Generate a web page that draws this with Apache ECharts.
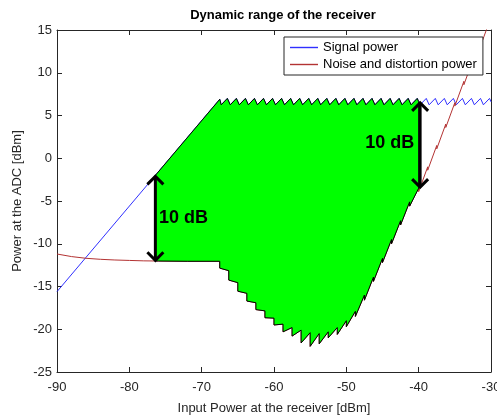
<!DOCTYPE html>
<html>
<head>
<meta charset="utf-8">
<script src="https://cdn.jsdelivr.net/npm/echarts@6/dist/echarts.min.js"></script>
<style>
  html, body { margin: 0; padding: 0; background: #fff; }
  #chart { width: 497px; height: 416px; }
</style>
</head>
<body>
<div id="chart"></div>
<script>
// Axis ranges and ticks
const xRange = [-90, -30];
const xStep = 10;
const yRange = [-25, 15];
const yStep = 5;

// Signal power at the ADC: linear ramp, then held by the AGC (gain steps give the ripple)
const signalRamp = [[-90, -15.6], [-67.5, 6.9]];
const signalClip = [
  [-67.3, 6.25], [-66.45, 7.0], [-66.05, 6.25], [-65.2, 7.0],
  [-64.8, 6.25], [-63.95, 7.0], [-63.55, 6.25], [-62.7, 7.0],
  [-62.3, 6.25], [-61.45, 7.0], [-61.05, 6.25], [-60.2, 7.0],
  [-59.8, 6.25], [-58.95, 7.0], [-58.55, 6.25], [-57.7, 7.0],
  [-57.3, 6.25], [-56.45, 7.0], [-56.05, 6.25], [-55.2, 7.0],
  [-54.8, 6.25], [-53.95, 7.0], [-53.55, 6.25], [-52.7, 7.0],
  [-52.3, 6.25], [-51.45, 7.0], [-51.05, 6.25], [-50.2, 7.0],
  [-49.8, 6.25], [-48.95, 7.0], [-48.55, 6.25], [-47.7, 7.0],
  [-47.3, 6.25], [-46.45, 7.0], [-46.05, 6.25], [-45.2, 7.0],
  [-44.8, 6.25], [-43.95, 7.0], [-43.55, 6.25], [-42.7, 7.0],
  [-42.3, 6.25], [-41.45, 7.0], [-41.05, 6.25], [-40.2, 7.0],
  [-39.8, 6.25], [-38.95, 7.0], [-38.55, 6.25], [-37.7, 7.0],
  [-37.3, 6.25], [-36.45, 7.0], [-36.05, 6.25], [-35.2, 7.0],
  [-34.8, 6.25], [-33.95, 7.0], [-33.55, 6.25], [-32.7, 7.0],
  [-32.3, 6.25], [-31.45, 7.0], [-31.05, 6.25], [-30.2, 7.0],
  [-30, 6.6]
];

// Noise and distortion power at the ADC
const noiseFloor = [
  [-90, -11.2], [-88, -11.5], [-86, -11.7], [-84, -11.82], [-82, -11.9],
  [-80, -11.95], [-78, -12.0], [-76, -12.02], [-72, -12.05], [-67.5, -12.05]
];
const noiseSteps = [
  [-67.5, -12.85], [-66.25, -13.15],
  [-66.25, -14.25], [-65, -14.55],
  [-65, -15.55], [-63.75, -15.8],
  [-63.75, -16.7], [-62.5, -16.9],
  [-62.5, -17.7], [-61.25, -17.85],
  [-61.25, -18.65], [-60, -18.7],
  [-60, -19.5], [-58.75, -19.4],
  [-58.75, -20.3], [-57.5, -19.8],
  [-57.5, -20.8], [-56.25, -20.1],
  [-56.25, -21.6], [-55, -20.4],
  [-55, -22.0], [-53.75, -20.5],
  [-53.75, -21.7], [-52.5, -20.3],
  [-52.5, -21.0], [-51.25, -19.8],
  [-51.25, -20.6], [-50, -19.0],
  [-50, -19.7], [-48.75, -17.9],
  [-48.75, -18.5], [-47.5, -16.0],
  [-47.5, -16.6], [-46.25, -13.9],
  [-46.25, -14.4], [-45, -11.7],
  [-45, -12.2], [-43.75, -9.5],
  [-43.75, -10.0], [-42.5, -7.3],
  [-42.5, -7.8], [-41.25, -5.1],
  [-41.25, -5.6], [-40, -3.5]
];
const noiseRise = [
  [-40, -3.9], [-38.75, -1.0],
  [-38.75, -1.4], [-37.5, 1.5],
  [-37.5, 1.1], [-36.25, 4.0],
  [-36.25, 3.6], [-35, 6.5],
  [-35, 6.1], [-33.75, 9.0],
  [-33.75, 8.6], [-32.5, 11.5],
  [-32.5, 11.1], [-31.25, 14.0],
  [-31.25, 13.6], [-30, 16.5]
];

// Usable input range (SNR >= 10 dB)
const rangeStart = -76.4;
const rangeEnd = -40;

// 10 dB markers: [x, top, bottom]
const arrows = [[-76.4, -2.0, -12.05], [-39.8, 6.6, -3.5]];
const arrowLabels = [[-72.5, -7.0], [-44.0, 1.8]];
const arrowText = '10 dB';

const seriesNames = ['Signal power', 'Noise and distortion power'];
const seriesColors = ['#3030ff', '#b33333'];

function interp(pts, x) {
  for (let i = 0; i < pts.length - 1; i++) {
    const a = pts[i], b = pts[i + 1];
    if (x >= a[0] && x <= b[0] && b[0] !== a[0]) {
      return a[1] + (b[1] - a[1]) * (x - a[0]) / (b[0] - a[0]);
    }
  }
  return pts[pts.length - 1][1];
}

// Outline of the usable region: signal on top, noise underneath
const signalAll = signalRamp.concat(signalClip);
const topEdge = [[rangeStart, interp(signalRamp, rangeStart)]]
  .concat(signalAll.filter(p => p[0] > rangeStart && p[0] < rangeEnd))
  .concat([[rangeEnd, interp(signalClip, rangeEnd)]]);
const bottomEdge = [[rangeStart, interp(noiseFloor, rangeStart)]]
  .concat(noiseFloor.filter(p => p[0] > rangeStart))
  .concat(noiseSteps);
const outline = topEdge.concat(bottomEdge.slice().reverse());

const axisColor = '#262626';
const font = 'Liberation Sans, Arial, Helvetica, sans-serif';

const chart = echarts.init(document.getElementById('chart'), null, { renderer: 'canvas' });

const baseX = {
  type: 'value', min: xRange[0], max: xRange[1], interval: xStep,
  axisLine: { onZero: false, lineStyle: { color: axisColor, width: 1 } },
  axisTick: { inside: true, length: 5, lineStyle: { color: axisColor } },
  splitLine: { show: false }
};
const baseY = {
  type: 'value', min: yRange[0], max: yRange[1], interval: yStep,
  axisLine: { onZero: false, lineStyle: { color: axisColor, width: 1 } },
  axisTick: { inside: true, length: 5, lineStyle: { color: axisColor } },
  splitLine: { show: false }
};

chart.setOption({
  animation: false,
  backgroundColor: '#fff',
  title: {
    text: 'Dynamic range of the receiver',
    left: 278, top: 4, textAlign: 'center',
    textStyle: { fontFamily: font, fontSize: 13, fontWeight: 'bold', color: '#000' }
  },
  grid: { left: 57, right: 6, top: 30, bottom: 44, containLabel: false, outerBoundsMode: 'none' },
  xAxis: [
    Object.assign({}, baseX, {
      position: 'bottom',
      name: 'Input Power at the receiver [dBm]',
      nameLocation: 'middle', nameGap: 30, nameMoveOverlap: false,
      nameTextStyle: { fontFamily: font, fontSize: 13, color: axisColor },
      axisLabel: { fontFamily: font, fontSize: 13, color: axisColor, margin: 9 }
    }),
    Object.assign({}, baseX, { position: 'top', axisLabel: { show: false } })
  ],
  yAxis: [
    Object.assign({}, baseY, {
      position: 'left',
      name: 'Power at the ADC [dBm]',
      nameLocation: 'middle', nameGap: 33, nameRotate: 90, nameMoveOverlap: false,
      nameTextStyle: { fontFamily: font, fontSize: 13, color: axisColor },
      axisLabel: { fontFamily: font, fontSize: 13, color: axisColor, margin: 5 }
    }),
    Object.assign({}, baseY, { position: 'right', axisLabel: { show: false } })
  ],
  legend: {
    data: seriesNames.map((n, i) => ({ name: n, icon: 'rect', itemStyle: { color: seriesColors[i] } })),
    orient: 'vertical',
    left: 284, top: 37,
    backgroundColor: '#fff',
    borderColor: axisColor, borderWidth: 1, borderRadius: 0,
    padding: [4, 6, 4, 6],
    itemGap: 4, itemWidth: 28, itemHeight: 1.4,
    textStyle: { fontFamily: font, fontSize: 13, color: '#000' },
    z: 20
  },
  series: [
    {
      name: seriesNames[0], type: 'line', data: signalAll,
      showSymbol: false, symbol: 'none', z: 2,
      lineStyle: { color: seriesColors[0], width: 1 }, itemStyle: { color: seriesColors[0] }
    },
    {
      name: seriesNames[1], type: 'line', data: noiseFloor.concat(noiseSteps, noiseRise),
      showSymbol: false, symbol: 'none', z: 2,
      lineStyle: { color: seriesColors[1], width: 1 }, itemStyle: { color: seriesColors[1] }
    },
    {
      type: 'custom', z: 3, silent: true,
      data: [[rangeStart, 0]],
      renderItem: function (params, api) {
        return {
          type: 'polygon',
          shape: { points: outline.map(p => api.coord(p)) },
          style: { fill: '#00ff00', stroke: '#000', lineWidth: 1 }
        };
      }
    },
    {
      type: 'custom', z: 4, silent: true,
      data: arrows,
      renderItem: function (params, api) {
        const top = api.coord([api.value(0), api.value(1)]);
        const bot = api.coord([api.value(0), api.value(2)]);
        const hw = 8, hl = 9;
        const st = { stroke: '#000', lineWidth: 3, fill: null, lineJoin: 'miter' };
        return {
          type: 'group',
          children: [
            { type: 'line', shape: { x1: top[0], y1: top[1] + 1, x2: bot[0], y2: bot[1] - 1 }, style: st },
            { type: 'polyline', shape: { points: [[top[0] - hw, top[1] + hl], [top[0], top[1] + 1], [top[0] + hw, top[1] + hl]] }, style: st },
            { type: 'polyline', shape: { points: [[bot[0] - hw, bot[1] - hl], [bot[0], bot[1] - 1], [bot[0] + hw, bot[1] - hl]] }, style: st }
          ]
        };
      }
    },
    {
      type: 'custom', z: 5, silent: true,
      data: arrowLabels,
      renderItem: function (params, api) {
        const p = api.coord([api.value(0), api.value(1)]);
        return {
          type: 'text',
          x: p[0], y: p[1],
          style: {
            text: arrowText, fill: '#000',
            fontFamily: font, fontSize: 18, fontWeight: 'bold',
            align: 'center', verticalAlign: 'middle'
          }
        };
      }
    }
  ]
});
</script>
</body>
</html>
